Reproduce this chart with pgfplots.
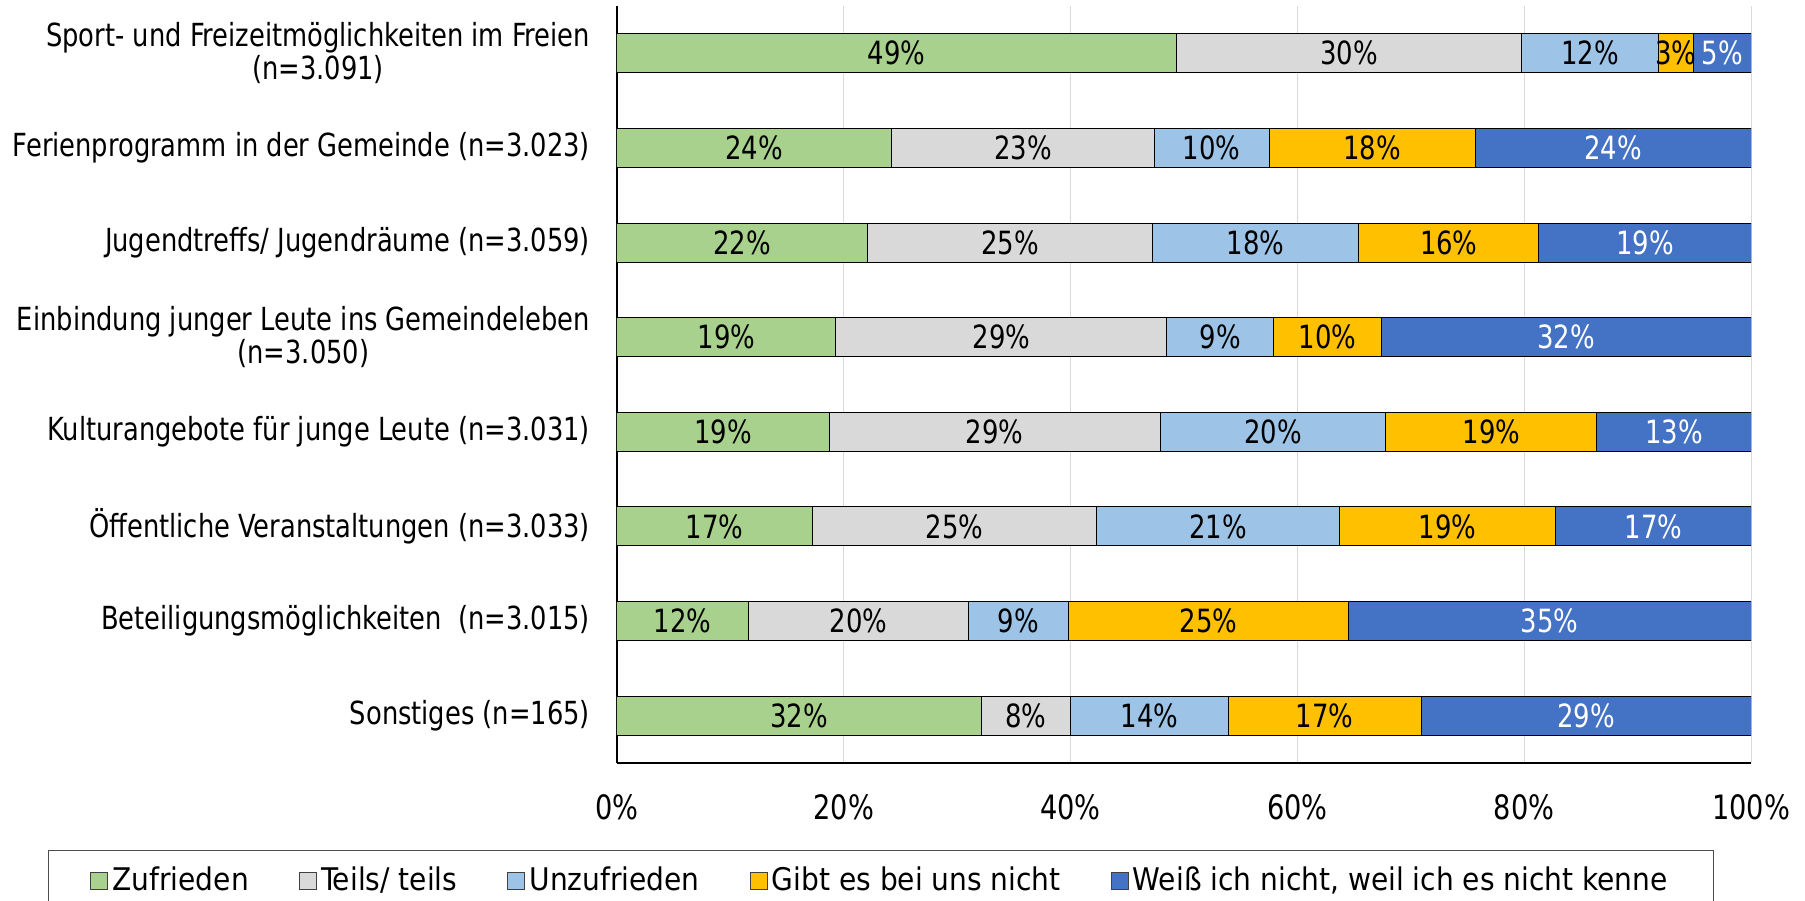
\documentclass[border=0pt]{standalone}
\usepackage{fontspec}
\setmainfont{DejaVu Sans Condensed}[FakeStretch=0.9]
\newfontfamily\legfont{DejaVu Sans Condensed}
\usepackage{pgfplots}
\pgfplotsset{compat=1.18}
\definecolor{cZ}{HTML}{A9D18E}
\definecolor{cT}{HTML}{D9D9D9}
\definecolor{cU}{HTML}{9DC3E6}
\definecolor{cG}{HTML}{FFC000}
\definecolor{cW}{HTML}{4472C4}
\definecolor{gridgray}{HTML}{D9D9D9}
\begin{document}
\fontsize{16}{18}\selectfont
\begin{tikzpicture}
\begin{axis}[
  at={(0,0)}, anchor=south west, scale only axis,
  width=567pt, height=378.5pt,
  xbar stacked, bar width=19.5pt,
  xmin=0, xmax=100, ymin=-0.5, ymax=7.5,
  axis x line*=bottom, axis y line*=left,
  axis line style={black, line width=0.75pt},
  tick style={draw=none}, major tick length=0pt,
  xtick={0,20,40,60,80,100},
  xticklabels={0\%,20\%,40\%,60\%,80\%,100\%},
  ytick={0,1,2,3,4,5,6,7},
  yticklabels={Sonstiges (n=165),{Beteiligungsmöglichkeiten\ \ (n=3.015)},Öffentliche Veranstaltungen (n=3.033),Kulturangebote für junge Leute (n=3.031),{Einbindung junger Leute ins Gemeindeleben\\(n=3.050)},Jugendtreffs/ Jugendräume (n=3.059),Ferienprogramm in der Gemeinde (n=3.023),{Sport- und Freizeitmöglichkeiten im Freien\\(n=3.091)}},
  yticklabel style={align=center, font=\fontsize{15.9}{16.5}\selectfont},
  xticklabel style={font=\fontsize{16.8}{18}\selectfont},
  xticklabel shift=10pt, yticklabel shift=8pt,
  xmajorgrids, grid style={draw=gridgray, line width=0.5pt},
  every axis plot/.append style={draw=black, line width=0.5pt},
  legend columns=5,
  legend cell align=left,
  legend image code/.code={\draw[#1, draw=black!75, line width=0.5pt] (0pt,-4.3pt) rectangle (8.6pt,4.3pt);},
  legend style={at={(axis description cs:0.2328,-0.1149)}, anchor=north,
    draw=black!70, line width=0.5pt, inner xsep=21pt, inner ysep=6pt,
    font=\legfont\fontsize{15.6}{17}\selectfont,
    /tikz/every even column/.append style={column sep=23pt}},
]
\addplot[fill=cZ] coordinates {(32.1,0) (11.6,1) (17.2,2) (18.7,3) (19.3,4) (22.1,5) (24.2,6) (49.3,7)};
\addlegendentry{Zufrieden}
\addplot[fill=cT] coordinates {(7.9,0) (19.4,1) (25.1,2) (29.2,3) (29.2,4) (25.1,5) (23.2,6) (30.5,7)};
\addlegendentry{Teils/ teils}
\addplot[fill=cU] coordinates {(13.9,0) (8.8,1) (21.4,2) (19.9,3) (9.4,4) (18.2,5) (10.1,6) (12.0,7)};
\addlegendentry{Unzufrieden}
\addplot[fill=cG] coordinates {(17.0,0) (24.7,1) (19.1,2) (18.6,3) (9.5,4) (15.9,5) (18.2,6) (3.1,7)};
\addlegendentry{Gibt es bei uns nicht}
\addplot[fill=cW] coordinates {(29.1,0) (35.5,1) (17.2,2) (13.6,3) (32.6,4) (18.7,5) (24.3,6) (5.1,7)};
\addlegendentry{Weiß ich nicht, weil ich es nicht kenne}
\end{axis}
\begin{axis}[
  at={(0,0)}, anchor=south west, scale only axis,
  width=567pt, height=378.5pt,
  xmin=0, xmax=100, ymin=-0.5, ymax=7.5, hide axis, clip=false,
]
\addplot[only marks, mark=none, point meta=explicit symbolic,
  nodes near coords={\pgfplotspointmeta\%},
  nodes near coords style={anchor=center, text=black, inner sep=0pt, font=\fontsize{16}{18}\selectfont}]
  table[meta=l] {
x y l
24.65 7 49
64.55 7 30
85.8 7 12
93.35 7 3
12.1 6 24
35.8 6 23
52.45 6 10
66.6 6 18
11.05 5 22
34.65 5 25
56.3 5 18
73.35 5 16
9.65 4 19
33.9 4 29
53.2 4 9
62.65 4 10
9.35 3 19
33.3 3 29
57.85 3 20
77.1 3 19
8.6 2 17
29.75 2 25
53.0 2 21
73.25 2 19
5.8 1 12
21.3 1 20
35.4 1 9
52.15 1 25
16.05 0 32
36.05 0 8
46.95 0 14
62.4 0 17
};
\addplot[only marks, mark=none, point meta=explicit symbolic,
  nodes near coords={\pgfplotspointmeta\%},
  nodes near coords style={anchor=center, text=white, inner sep=0pt, font=\fontsize{16}{18}\selectfont}]
  table[meta=l] {
x y l
97.45 7 5
87.85 6 24
90.65 5 19
83.7 4 32
93.2 3 13
91.4 2 17
82.25 1 35
85.45 0 29
};
\end{axis}
\pgfresetboundingbox
\path[use as bounding box] (-308.5pt,-68.5pt) rectangle (594pt,381.5pt);
\end{tikzpicture}
\end{document}
